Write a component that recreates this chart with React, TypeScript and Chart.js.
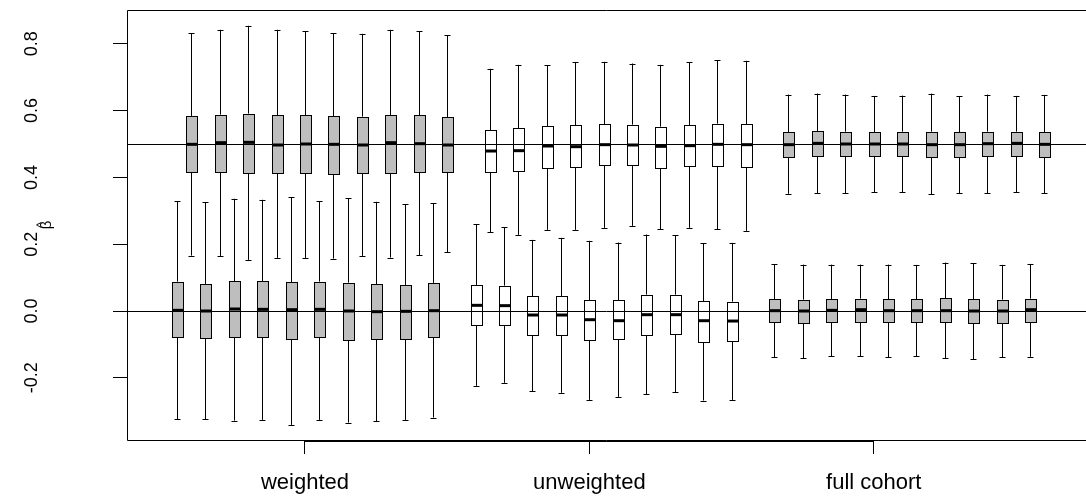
import React, { useEffect, useRef } from 'react';
import { Chart, registerables } from 'chart.js';

Chart.register(...registerables);

// Category labels on the x axis
const groupLabels = ['weighted', 'unweighted', 'full cohort'];

// y axis tick values and their labels
const yTickValues = [-0.2, 0, 0.2, 0.4, 0.6, 0.8];
const yTickLabels = ['-0.2', '0.0', '0.2', '0.4', '0.6', '0.8'];

// Horizontal reference lines (true beta values)
const referenceLines = [0, 0.5];

// Each box: [lower whisker, Q1, median, Q3, upper whisker]
const weightedLower = [
  [-0.324, -0.077, 0.002, 0.088, 0.329],
  [-0.324, -0.082, 0.0, 0.081, 0.325],
  [-0.328, -0.078, 0.006, 0.089, 0.336],
  [-0.326, -0.078, 0.005, 0.089, 0.333],
  [-0.341, -0.085, 0.004, 0.087, 0.341],
  [-0.326, -0.079, 0.005, 0.088, 0.329],
  [-0.334, -0.087, 0.0, 0.085, 0.338],
  [-0.33, -0.085, -0.002, 0.08, 0.327],
  [-0.326, -0.083, -0.001, 0.078, 0.319],
  [-0.319, -0.078, 0.001, 0.084, 0.322],
];
const weightedUpper = [
  [0.166, 0.415, 0.499, 0.584, 0.832],
  [0.165, 0.417, 0.504, 0.588, 0.842],
  [0.153, 0.414, 0.505, 0.591, 0.854],
  [0.159, 0.413, 0.497, 0.586, 0.842],
  [0.159, 0.414, 0.5, 0.586, 0.838],
  [0.157, 0.411, 0.499, 0.583, 0.832],
  [0.165, 0.413, 0.497, 0.582, 0.83],
  [0.16, 0.414, 0.504, 0.587, 0.842],
  [0.167, 0.417, 0.501, 0.586, 0.838],
  [0.176, 0.415, 0.497, 0.58, 0.826],
];
const unweightedLower = [
  [-0.224, -0.043, 0.017, 0.078, 0.26],
  [-0.215, -0.041, 0.016, 0.076, 0.251],
  [-0.24, -0.072, -0.012, 0.044, 0.213],
  [-0.245, -0.071, -0.012, 0.045, 0.219],
  [-0.266, -0.087, -0.026, 0.033, 0.21],
  [-0.257, -0.085, -0.029, 0.032, 0.205],
  [-0.249, -0.071, -0.011, 0.049, 0.229],
  [-0.243, -0.069, -0.011, 0.049, 0.227],
  [-0.268, -0.092, -0.029, 0.03, 0.203],
  [-0.266, -0.09, -0.03, 0.028, 0.204],
];
const unweightedUpper = [
  [0.236, 0.417, 0.479, 0.541, 0.725],
  [0.228, 0.418, 0.48, 0.547, 0.737],
  [0.243, 0.429, 0.494, 0.553, 0.736],
  [0.243, 0.43, 0.492, 0.556, 0.745],
  [0.249, 0.436, 0.498, 0.56, 0.746],
  [0.255, 0.437, 0.497, 0.558, 0.741],
  [0.245, 0.429, 0.493, 0.552, 0.737],
  [0.249, 0.433, 0.495, 0.557, 0.745],
  [0.245, 0.435, 0.499, 0.561, 0.751],
  [0.24, 0.432, 0.498, 0.56, 0.749],
];
const fullLower = [
  [-0.138, -0.033, 0.001, 0.036, 0.14],
  [-0.141, -0.036, 0.0, 0.034, 0.139],
  [-0.136, -0.034, 0.002, 0.036, 0.139],
  [-0.136, -0.032, 0.004, 0.037, 0.139],
  [-0.138, -0.034, 0.001, 0.036, 0.139],
  [-0.135, -0.033, 0.001, 0.035, 0.138],
  [-0.142, -0.034, 0.001, 0.038, 0.145],
  [-0.144, -0.036, 0.0, 0.035, 0.143],
  [-0.138, -0.035, 0.0, 0.034, 0.138],
  [-0.137, -0.032, 0.004, 0.037, 0.141],
];
const fullUpper = [
  [0.351, 0.461, 0.498, 0.536, 0.648],
  [0.353, 0.464, 0.502, 0.539, 0.651],
  [0.353, 0.463, 0.5, 0.537, 0.648],
  [0.356, 0.463, 0.5, 0.536, 0.644],
  [0.355, 0.463, 0.5, 0.537, 0.645],
  [0.349, 0.461, 0.498, 0.537, 0.651],
  [0.353, 0.462, 0.498, 0.535, 0.643],
  [0.353, 0.463, 0.501, 0.537, 0.648],
  [0.356, 0.464, 0.502, 0.537, 0.644],
  [0.353, 0.461, 0.499, 0.536, 0.647],
];

const groupFills = ['#BEBEBE', '#FFFFFF', '#BEBEBE'];

const groups = [
  { lower: weightedLower, upper: weightedUpper },
  { lower: unweightedLower, upper: unweightedUpper },
  { lower: fullLower, upper: fullUpper },
];

// layout of box positions on the linear x scale
const boxPos = (g: number, i: number, upper: boolean) => 1 + g * 21 + 2 * i + (upper ? 1 : 0);
const tickPositions = groupLabels.map((_, g) => 10 + 20 * g);

const FONT = "'Liberation Sans', Arial, Helvetica, sans-serif";

const boxPlugin = {
  id: 'rBoxplot',
  afterDatasetsDraw(chart: any) {
    const ctx: CanvasRenderingContext2D = chart.ctx;
    const xs = chart.scales.x;
    const ys = chart.scales.y;
    const area = chart.chartArea;
    ctx.save();
    ctx.strokeStyle = '#000';
    ctx.fillStyle = '#000';
    ctx.lineCap = 'butt';

    const drawBox = (pos: number, s: number[], fill: string) => {
      const [lo, q1, med, q3, hi] = s;
      const xc = Math.round(xs.getPixelForValue(pos)) + 0.5;
      const half = xs.getPixelForValue(pos + 0.42) - xs.getPixelForValue(pos);
      const yLo = ys.getPixelForValue(lo);
      const yQ1 = ys.getPixelForValue(q1);
      const yMed = ys.getPixelForValue(med);
      const yQ3 = ys.getPixelForValue(q3);
      const yHi = ys.getPixelForValue(hi);
      ctx.lineWidth = 1;
      ctx.strokeStyle = '#000';
      // whiskers
      ctx.beginPath();
      ctx.moveTo(xc, yHi);
      ctx.lineTo(xc, yQ3);
      ctx.moveTo(xc, yQ1);
      ctx.lineTo(xc, yLo);
      // staples
      ctx.moveTo(xc - half / 2, Math.round(yHi) + 0.5);
      ctx.lineTo(xc + half / 2, Math.round(yHi) + 0.5);
      ctx.moveTo(xc - half / 2, Math.round(yLo) + 0.5);
      ctx.lineTo(xc + half / 2, Math.round(yLo) + 0.5);
      ctx.stroke();
      // box
      const left = Math.round(xc - half) + 0.5;
      const right = Math.round(xc + half) + 0.5;
      const top = Math.round(yQ3) + 0.5;
      const bottom = Math.round(yQ1) + 0.5;
      ctx.fillStyle = fill;
      ctx.fillRect(left, top, right - left, bottom - top);
      ctx.strokeRect(left, top, right - left, bottom - top);
      // median
      ctx.lineWidth = 3;
      ctx.beginPath();
      ctx.moveTo(left, yMed);
      ctx.lineTo(right, yMed);
      ctx.stroke();
    };

    groups.forEach((grp, g) => {
      grp.lower.forEach((s, i) => drawBox(boxPos(g, i, false), s, groupFills[g]));
      grp.upper.forEach((s, i) => drawBox(boxPos(g, i, true), s, groupFills[g]));
    });

    // reference lines
    ctx.lineWidth = 1;
    ctx.strokeStyle = '#000';
    referenceLines.forEach((v) => {
      const y = Math.round(ys.getPixelForValue(v)) + 0.5;
      ctx.beginPath();
      ctx.moveTo(area.left, y);
      ctx.lineTo(area.right, y);
      ctx.stroke();
    });

    // frame (right side lies outside the picture)
    ctx.beginPath();
    ctx.moveTo(area.right, area.top + 0.5);
    ctx.lineTo(area.left + 0.5, area.top + 0.5);
    ctx.lineTo(area.left + 0.5, area.bottom + 0.5);
    ctx.lineTo(area.right, area.bottom + 0.5);
    ctx.stroke();

    // x axis line between first and last tick (R axis)
    const xa = xs.getPixelForValue(tickPositions[0]);
    const xb = xs.getPixelForValue(tickPositions[tickPositions.length - 1]);
    ctx.beginPath();
    ctx.moveTo(xa, area.bottom + 1.5);
    ctx.lineTo(xb, area.bottom + 1.5);
    ctx.stroke();

    // y tick labels (rotated, R style)
    ctx.fillStyle = '#000';
    ctx.font = `18px ${FONT}`;
    ctx.textAlign = 'center';
    ctx.textBaseline = 'alphabetic';
    yTickValues.forEach((v, k) => {
      const y = ys.getPixelForValue(v);
      ctx.save();
      ctx.translate(37, y);
      ctx.rotate(-Math.PI / 2);
      ctx.fillText(yTickLabels[k], 0, 0);
      ctx.restore();
    });

    // y axis title: beta hat
    const yMid = (area.top + area.bottom) / 2;
    ctx.save();
    ctx.translate(51, yMid);
    ctx.rotate(-Math.PI / 2);
    ctx.font = `15px ${FONT}`;
    ctx.fillText('\u03B2', 0, 0);
    ctx.font = `12px ${FONT}`;
    ctx.fillText('^', 0, -6);
    ctx.restore();

    ctx.restore();
  },
};

export default function App() {
  const canvasRef = useRef<HTMLCanvasElement | null>(null);

  useEffect(() => {
    const canvas = canvasRef.current;
    if (!canvas) return;
    const medianPoints: { x: number; y: number }[] = [];
    groups.forEach((grp, g) => {
      grp.lower.forEach((s, i) => medianPoints.push({ x: boxPos(g, i, false), y: s[2] }));
      grp.upper.forEach((s, i) => medianPoints.push({ x: boxPos(g, i, true), y: s[2] }));
    });
    const chart = new Chart(canvas, {
      type: 'scatter',
      data: {
        datasets: [
          {
            data: medianPoints,
            pointRadius: 0,
            pointHoverRadius: 0,
            showLine: false,
          },
        ],
      },
      options: {
        animation: false,
        responsive: false,
        devicePixelRatio: 1,
        events: [],
        layout: { padding: { top: 10, left: 0, right: 0, bottom: 0 } },
        plugins: { legend: { display: false }, tooltip: { enabled: false } },
        scales: {
          x: {
            type: 'linear',
            min: -2.518,
            max: 64.93,
            afterBuildTicks: (s: any) => {
              s.ticks = tickPositions.map((v) => ({ value: v }));
            },
            afterFit: (s: any) => {
              s.height = 60;
            },
            ticks: {
              autoSkip: false,
              maxRotation: 0,
              minRotation: 0,
              color: '#000',
              padding: 16,
              font: { family: FONT, size: 22 },
              callback: (v: any) => {
                const k = tickPositions.indexOf(Number(v));
                return k >= 0 ? groupLabels[k] : '';
              },
            },
            grid: {
              drawOnChartArea: false,
              drawTicks: true,
              tickLength: 14,
              color: '#000',
              lineWidth: 1,
            },
            border: { display: false },
          },
          y: {
            type: 'linear',
            min: -0.3862,
            max: 0.9012,
            afterBuildTicks: (s: any) => {
              s.ticks = yTickValues.map((v) => ({ value: v }));
            },
            afterFit: (s: any) => {
              s.width = 127;
            },
            ticks: { display: false },
            grid: {
              drawOnChartArea: false,
              drawTicks: true,
              tickLength: 14,
              color: '#000',
              lineWidth: 1,
            },
            border: { display: false },
          },
        },
      },
      plugins: [boxPlugin],
    });
    return () => chart.destroy();
  }, []);

  return (
    <div style={{ position: 'fixed', left: 0, top: 0, width: 1086, height: 500, background: '#fff' }}>
      <canvas ref={canvasRef} width={1086} height={500} style={{ display: 'block' }} />
    </div>
  );
}
